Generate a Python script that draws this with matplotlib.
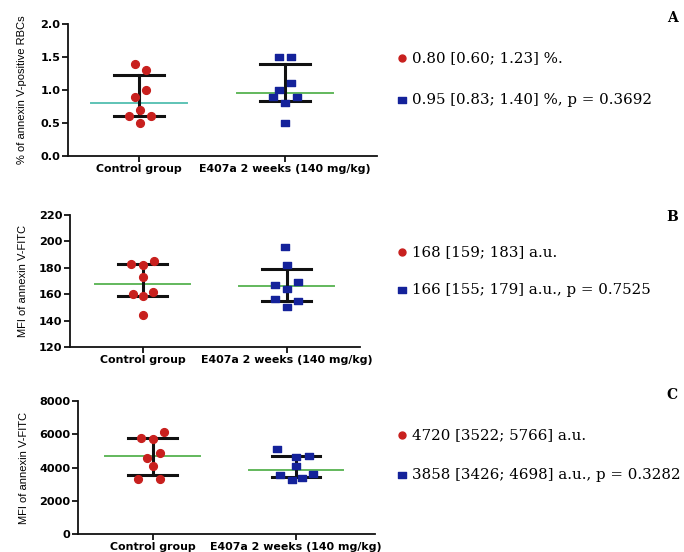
import numpy as np
import matplotlib
matplotlib.use("Agg")
import matplotlib.pyplot as plt
from matplotlib.path import Path

# ---- data -------------------------------------------------------------
groups = ["Control group", "E407a 2 weeks (140 mg/kg)"]

a_control = [1.40, 1.30, 1.00, 0.90, 0.70, 0.60, 0.60, 0.50]
a_e407a = [1.50, 1.50, 1.10, 1.00, 0.90, 0.90, 0.80, 0.50]
a_stats_control = (0.80, 0.60, 1.23)   # median, Q1, Q3
a_stats_e407a = (0.95, 0.83, 1.40)

b_control = [183, 182, 185, 173, 160, 159, 162, 144]
b_e407a = [196, 182, 167, 164, 169, 156, 155, 150]
b_stats_control = (168, 159, 183)
b_stats_e407a = (166, 155, 179)

c_control = [5800, 5700, 6150, 4850, 4600, 4100, 3320, 3320]
c_e407a = [5100, 4650, 4720, 4100, 3550, 3220, 3380, 3600]
c_stats_control = (4720, 3522, 5766)
c_stats_e407a = (3858, 3426, 4698)

a_notes = ["0.80 [0.60; 1.23] %.", "0.95 [0.83; 1.40] %, p = 0.3692"]
b_notes = ["168 [159; 183] a.u.", "166 [155; 179] a.u., p = 0.7525"]
c_notes = ["4720 [3522; 5766] a.u.", "3858 [3426; 4698] a.u., p = 0.3282"]

# horizontal swarm offsets (in category units) for each point
a_off_control = [-0.03, 0.05, 0.05, -0.03, 0.01, -0.07, 0.08, 0.01]
a_off_e407a = [-0.04, 0.04, 0.04, -0.04, -0.08, 0.08, 0.0, 0.0]
b_off_control = [-0.08, 0.0, 0.08, 0.0, -0.07, 0.0, 0.07, 0.0]
b_off_e407a = [-0.01, 0.0, -0.08, 0.0, 0.08, -0.08, 0.08, 0.0]
c_off_control = [-0.08, 0.0, 0.08, 0.05, -0.04, 0.0, -0.1, 0.05]
c_off_e407a = [-0.13, 0.0, 0.09, 0.0, -0.11, -0.03, 0.04, 0.12]

# ---- style ------------------------------------------------------------
RED = "#c8201e"
BLUE = "#14229a"
GREEN = "#62b85c"
TEAL = "#5ec3b6"
TICKFONT = "DejaVu Sans"
LABELFONT = "Liberation Sans"
SERIF = "DejaVu Serif"

rect = Path([(-1, -0.72), (1, -0.72), (1, 0.72), (-1, 0.72), (-1, -0.72)],
            [Path.MOVETO, Path.LINETO, Path.LINETO, Path.LINETO, Path.CLOSEPOLY])

W, H = 684, 552
fig = plt.figure(figsize=(W / 100, H / 100), dpi=100)
fig.patch.set_facecolor("white")


def px_axes(left, right, top, bottom):
    return fig.add_axes([left / W, (H - bottom) / H, (right - left) / W, (bottom - top) / H])


def panel(ax, ctrl, e407, sc, se, offc, offe, ylim, yticks, ylabel, fmt,
          xlim, ctrl_med_color, label_x_px, left_px, width_px):
    ax.set_xlim(*xlim)
    ax.set_ylim(*ylim)
    for s in ("top", "right"):
        ax.spines[s].set_visible(False)
    for s in ("left", "bottom"):
        ax.spines[s].set_linewidth(1.3)
        ax.spines[s].set_color("#111111")

    for xi, stats, med_col in ((0, sc, ctrl_med_color), (1, se, GREEN)):
        med, q1, q3 = stats
        ax.plot([xi - 0.33, xi + 0.33], [med, med], color=med_col, lw=1.4, zorder=2)
        ax.plot([xi, xi], [q1, q3], color="#111111", lw=2.2, zorder=3)
        for q in (q1, q3):
            ax.plot([xi - 0.17, xi + 0.17], [q, q], color="#111111", lw=2.2, zorder=3)

    ax.plot(np.array(offc), ctrl, linestyle="none", marker="o", ms=5.6,
            mfc=RED, mec=RED, zorder=4)
    ax.plot(1 + np.array(offe), e407, linestyle="none", marker=rect, ms=6.2,
            mfc=BLUE, mec=BLUE, zorder=4)

    ax.set_xticks([0, 1])
    ax.set_xticklabels(groups, fontfamily=TICKFONT, fontweight="bold", fontsize=7.9)
    ax.set_yticks(yticks)
    ax.set_yticklabels([fmt(v) for v in yticks], fontfamily=TICKFONT,
                       fontweight="bold", fontsize=8.1)
    ax.tick_params(axis="both", direction="out", length=4, width=1.3,
                   color="#111111", pad=1.5)
    ax.set_ylabel(ylabel, fontfamily=LABELFONT, fontsize=8)
    ax.yaxis.set_label_coords((label_x_px - left_px) / width_px, 0.5)


def notes(letter, y_letter, lines, ys):
    fig.text(672 / W, 1 - y_letter / H, letter, fontfamily=SERIF, fontweight="bold",
             fontsize=10, ha="center", va="center")
    for (txt, y, mk, col) in zip(lines, ys, ("o", rect), (RED, BLUE)):
        fig.lines.append(plt.Line2D([402 / W], [1 - y / H], transform=fig.transFigure,
                                    marker=mk, ms=5 if mk == "o" else 5.2,
                                    mfc=col, mec=col, linestyle="none"))
        fig.text(412 / W, 1 - y / H, txt, fontfamily=SERIF, fontsize=10.8,
                 ha="left", va="center")


axA = px_axes(68, 377, 24, 156)
panel(axA, a_control, a_e407a, a_stats_control, a_stats_e407a,
      a_off_control, a_off_e407a, (0, 2.0), [0.0, 0.5, 1.0, 1.5, 2.0],
      "% of annexin V-positive RBCs", lambda v: f"{v:.1f}",
      (-0.486, 1.63), TEAL, 27, 68, 309)

axB = px_axes(70, 360, 215, 347)
panel(axB, b_control, b_e407a, b_stats_control, b_stats_e407a,
      b_off_control, b_off_e407a, (120, 220), [120, 140, 160, 180, 200, 220],
      "MFI of annexin V-FITC", lambda v: f"{v:d}",
      (-0.507, 1.51), GREEN, 28, 70, 290)

axC = px_axes(78, 375, 401, 534)
panel(axC, c_control, c_e407a, c_stats_control, c_stats_e407a,
      c_off_control, c_off_e407a, (0, 8000), [0, 2000, 4000, 6000, 8000],
      "MFI of annexin V-FITC", lambda v: f"{v:d}",
      (-0.52, 1.55), GREEN, 29, 78, 297)

notes("A", 18, a_notes, (58, 100))
notes("B", 217, b_notes, (252, 290))
notes("C", 395, c_notes, (435, 475))

fig.savefig("out.png", dpi=100, facecolor="white")
